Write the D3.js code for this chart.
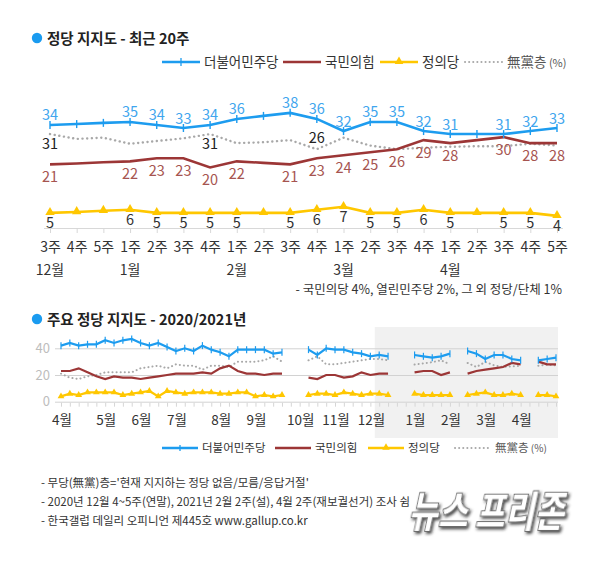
<!DOCTYPE html>
<html><head><meta charset="utf-8">
<script src="https://cdn.jsdelivr.net/npm/d3@7"></script>
<style>
body{margin:0;background:#fff;}
svg{display:block;font-family:"Noto Sans CJK KR","Noto Sans",sans-serif;}
</style>
</head><body>
<svg id="c" width="600" height="572"></svg>
<script>
// ---------- DATA: top chart (last 20 weeks) ----------
const weekLabels = ["3주","4주","5주","1주","2주","3주","4주","1주","2주","3주","4주","1주","2주","3주","4주","1주","2주","3주","4주","5주"];
const monthNames = ["12월","1월","2월","3월","4월"];
const monthAtWeek = [0,3,7,11,15];
const minjoo      = [34,34.3,34.7,35,34,33,34,36,37,38,36,32,35,35,32,31,31,31,32,33];
const ppp         = [21,21.3,21.7,22,23,23,20,22,21.5,21,23,24,25,26,29,28,29,30,28,28];
const justice     = [5,5.3,5.7,6,5,5,5,5,5,5,6,7,5,5,6,5,5,5,5,4];
const nonpartisan = [31,29.4,29.8,27.8,28.7,29.6,31,28,28.3,29,26,29.8,27.2,26,26.5,26.8,27,27,27.8,27.2];
const noSurveyWeeks = [1,2,8,16];
const nonpartisanLabelWeeks = [0,6,10];

// ---------- DATA: bottom chart (weekly, 2020 Apr wk1 .. 2020 Dec wk2; then the 20 weeks above) ----------
const bMinjooEarly  = [42,44,42,43,43,46,44,46,47,44,42,44,41,38,40,38,42,39,37,34,39,39,39,39,36,37,null,null,39,35,40,39,39,37,36,34,35];
const bPppEarly     = [23,23,25,22,19,17,19,18,18,17,18,19,20,21,21,21,22,21,25,27,23,21,21,20,21,21,null,null,18,17,20,20,18,19,22,20,21];
const bJusticeEarly = [4,6,5,7,7,7,7,5,6,7,8,4,8,7,6,7,7,7,6,6,7,7,4,5,4,5,null,null,5,6,6,5,7,6,5,6,6];
const bNonEarly     = [21,18,17,19,20,22,22,22,22,25,26,27,25,28,27,27,24,27,27,26,30,30,30,31,34,30,null,null,31,34,28,28,29,30,31,32,32];
const bMonthNames   = ["4월","5월","6월","7월","8월","9월","10월","11월","12월","1월","2월","3월","4월"];
const bMonthAtWeek  = [0,5,9,13,18,22,27,31,35,40,44,48,52];
const bYTicks       = [0,20,40];

const seriesNames = ["더불어민주당","국민의힘","정의당","無黨층"];

// ---------- STYLE ----------
const C = {blue:"#1d9cef", blueLab:"#3fa6ee", red:"#9c3636", redLab:"#a65450", yellow:"#ffc700", gray:"#a8a8a8", text:"#333"};

const svg = d3.select("#c");

// bullets + titles
function title(y, txt){
  svg.append("circle").attr("cx",37).attr("cy",y-6).attr("r",5.2).attr("fill","#1a9bf0");
  svg.append("text").attr("x",47).attr("y",y).attr("font-size",14.5).attr("font-weight",700)
    .attr("fill","#222").text(txt);
}
title(44,"정당 지지도 - 최근 20주");
title(325,"주요 정당 지지도 - 2020/2021년");

// ---------- TOP CHART ----------
const xT = d3.scalePoint().domain(d3.range(weekLabels.length)).range([50,557]);
const yT = d3.scaleLinear().domain([0,40]).range([228,106.8]);

// axis
const axT = svg.append("g").attr("transform","translate(0,228)")
  .call(d3.axisBottom(xT).tickSize(5).tickFormat(i=>weekLabels[i]).tickPadding(6));
axT.select(".domain").attr("stroke","#d8d8d8").attr("d","M44,0.5H563");
axT.selectAll(".tick line").attr("stroke","#d8d8d8");
axT.selectAll(".tick text").attr("font-size",14).attr("fill",C.text).attr("font-family","Noto Sans CJK KR")
  .attr("dy","0.95em");
monthAtWeek.forEach((w,k)=>{
  svg.append("text").attr("x",xT(w)).attr("y",275).attr("text-anchor","middle")
    .attr("font-size",14).attr("fill",C.text).text(monthNames[k]);
});

const lineT = d3.line().x((d,i)=>xT(i)).y(d=>yT(d));
svg.append("path").datum(nonpartisan).attr("d",lineT).attr("fill","none").attr("stroke",C.gray)
  .attr("stroke-width",2.4).attr("stroke-dasharray","0.1,4.6").attr("stroke-linecap","round");
svg.append("path").datum(ppp).attr("d",lineT).attr("fill","none").attr("stroke",C.red).attr("stroke-width",2.6);
svg.append("path").datum(justice).attr("d",lineT).attr("fill","none").attr("stroke",C.yellow).attr("stroke-width",2.6);
svg.append("path").datum(minjoo).attr("d",lineT).attr("fill","none").attr("stroke",C.blue).attr("stroke-width",2.6);

// markers
const tri = d3.symbol().type(d3.symbolTriangle).size(38);
svg.append("g").selectAll("path").data(justice).join("path")
  .attr("d",tri).attr("transform",(d,i)=>`translate(${xT(i)},${yT(d)-0.5})`).attr("fill",C.yellow);
svg.append("g").selectAll("line").data(minjoo).join("line")
  .attr("x1",(d,i)=>xT(i)).attr("x2",(d,i)=>xT(i)).attr("y1",d=>yT(d)-4).attr("y2",d=>yT(d)+4)
  .attr("stroke",C.blue).attr("stroke-width",1.4);

// labels
const surveyed = i => !noSurveyWeeks.includes(i);
function labels(data, color, dy, filter){
  svg.append("g").selectAll("text").data(data.map((v,i)=>({v,i})).filter(d=>filter(d.i))).join("text")
    .attr("x",d=>xT(d.i)).attr("y",d=>yT(d.v)+dy(d)).attr("text-anchor","middle")
    .attr("font-size",14.5).attr("fill",color).text(d=>Math.round(d.v));
}
labels(minjoo, C.blueLab, ()=>-4.5, surveyed);
labels(ppp, C.redLab, ()=>18, surveyed);
labels(justice, "#333", ()=>15, surveyed);
labels(nonpartisan, "#222", d=> d.v<28 ? -6 : 14.5, i=>nonpartisanLabelWeeks.includes(i));

// legend
function legend(y, items, fs, fsSmall, lineLen, markSize){
  items.forEach(it=>{
    const g = svg.append("g");
    g.append("line").attr("x1",it.x).attr("x2",it.x+lineLen).attr("y1",y).attr("y2",y)
      .attr("stroke",it.color).attr("stroke-width",it.dash?2:2.4)
      .attr("stroke-dasharray",it.dash?"0.1,4":null).attr("stroke-linecap",it.dash?"round":"butt");
    if(it.mark==="plus") g.append("line").attr("x1",it.x+lineLen/2).attr("x2",it.x+lineLen/2)
      .attr("y1",y-markSize/2).attr("y2",y+markSize/2).attr("stroke",it.color).attr("stroke-width",1.3);
    if(it.mark==="tri") g.append("path").attr("d",d3.symbol().type(d3.symbolTriangle).size(markSize*4)())
      .attr("transform",`translate(${it.x+lineLen/2},${y-0.5})`).attr("fill",it.color);
    const t = g.append("text").attr("x",it.x+lineLen+4).attr("y",y).attr("dy","0.36em")
      .attr("font-size",fs).attr("fill",it.dash?"#555":"#333").text(it.name);
    if(it.dash) t.append("tspan").attr("font-size",fsSmall).text(" (%)");
  });
}
legend(62,[
  {x:162,color:C.blue,mark:"plus",name:seriesNames[0]},
  {x:283,color:C.red,name:seriesNames[1]},
  {x:380,color:C.yellow,mark:"tri",name:seriesNames[2]},
  {x:465,color:C.gray,dash:true,name:seriesNames[3]}
],13.5,11,38,8);

svg.append("text").attr("x",562).attr("y",294).attr("text-anchor","end").attr("font-size",12.5)
  .attr("fill","#333").text("- 국민의당 4%, 열린민주당 2%, 그 외 정당/단체 1%");

// ---------- BOTTOM CHART ----------
const toRecent = arr => arr.map((v,i)=>noSurveyWeeks.includes(i)?null:v);
const bMinjoo  = bMinjooEarly.concat(toRecent(minjoo));
const bPpp     = bPppEarly.concat(toRecent(ppp));
const bJustice = bJusticeEarly.concat(toRecent(justice));
const bNon     = bNonEarly.concat(toRecent(nonpartisan));
const nWeeks = bMinjoo.length;

const xB = d3.scaleLinear().domain([0,nWeeks-1]).range([61,556]);
const yB = d3.scaleLinear().domain([0,40]).range([401.7,348.3]);

svg.append("rect").attr("x",xB(35.5)).attr("y",327).attr("width",xB(nWeeks-1)+2-xB(35.5)).attr("height",111)
  .attr("fill","#f1f1f1");

const gy = svg.append("g").attr("transform","translate(55,0)")
  .call(d3.axisLeft(yB).tickValues(bYTicks).tickSize(-503).tickPadding(5));
gy.select(".domain").remove();
gy.selectAll(".tick line").attr("stroke","#d2d2d2");
gy.selectAll(".tick text").attr("font-size",13).attr("fill","#bdbdbd").attr("font-family","Noto Sans CJK KR");

const gx = svg.append("g").attr("transform",`translate(0,${yB(0)+1})`)
  .call(d3.axisBottom(xB).tickValues(d3.range(nWeeks)).tickSize(4).tickFormat(""));
gx.select(".domain").remove();
gx.selectAll(".tick line").attr("stroke","#d6d6d6");
bMonthAtWeek.forEach((w,k)=>{
  svg.append("text").attr("x",xB(w)+1).attr("y",425).attr("text-anchor","middle")
    .attr("font-size",13.5).attr("fill","#333").text(bMonthNames[k]);
});

const lineB = d3.line().defined(d=>d!=null).x((d,i)=>xB(i)).y(d=>yB(d));
svg.append("path").datum(bNon).attr("d",lineB).attr("fill","none").attr("stroke",C.gray)
  .attr("stroke-width",2).attr("stroke-dasharray","0.1,4").attr("stroke-linecap","round");
svg.append("path").datum(bPpp).attr("d",lineB).attr("fill","none").attr("stroke",C.red).attr("stroke-width",2.2);
svg.append("path").datum(bJustice).attr("d",lineB).attr("fill","none").attr("stroke",C.yellow).attr("stroke-width",2.2);
svg.append("path").datum(bMinjoo).attr("d",lineB).attr("fill","none").attr("stroke",C.blue).attr("stroke-width",2.2);

const idx = arr => arr.map((v,i)=>({v,i})).filter(d=>d.v!=null);
svg.append("g").selectAll("path").data(idx(bJustice)).join("path")
  .attr("d",d3.symbol().type(d3.symbolTriangle).size(20)).attr("transform",d=>`translate(${xB(d.i)},${yB(d.v)})`)
  .attr("fill",C.yellow);
svg.append("g").selectAll("line").data(idx(bMinjoo)).join("line")
  .attr("x1",d=>xB(d.i)).attr("x2",d=>xB(d.i)).attr("y1",d=>yB(d.v)-3.5).attr("y2",d=>yB(d.v)+3.5)
  .attr("stroke",C.blue).attr("stroke-width",1.2);

legend(448,[
  {x:162,color:C.blue,mark:"plus",name:seriesNames[0]},
  {x:275,color:C.red,name:seriesNames[1]},
  {x:368,color:C.yellow,mark:"tri",name:seriesNames[2]},
  {x:455,color:C.gray,dash:true,name:seriesNames[3]}
],11.5,10,36,6);

// footnotes
const notes = [
  "- 무당(無黨)층='현재 지지하는 정당 없음/모름/응답거절'",
  "- 2020년 12월 4~5주(연말), 2021년 2월 2주(설), 4월 2주(재보궐선거) 조사 쉼",
  "- 한국갤럽 데일리 오피니언 제445호 www.gallup.co.kr"
];
notes.forEach((t,k)=>{
  svg.append("text").attr("x",41).attr("y",487+k*19).attr("font-size",11.5).attr("fill","#333").text(t);
});

// watermark
const defs = svg.append("defs");
const f = defs.append("filter").attr("id","sh").attr("x","-10%").attr("y","-30%").attr("width","130%").attr("height","160%");
f.append("feDropShadow").attr("dx",2).attr("dy",2).attr("stdDeviation",1.6).attr("flood-color","#222").attr("flood-opacity",0.8);
svg.append("text").attr("x",0).attr("y",0)
  .attr("transform","translate(408,527) skewX(-12)")
  .attr("font-size",42).attr("font-weight",900).attr("fill","#fff").attr("stroke","#666").attr("stroke-width",1)
  .attr("textLength",156).attr("lengthAdjust","spacingAndGlyphs").attr("filter","url(#sh)")
  .text("뉴스 프리존");
</script>
</body></html>
